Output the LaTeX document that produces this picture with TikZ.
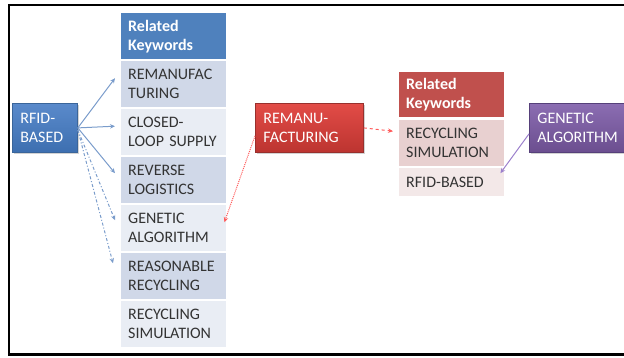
\documentclass[tikz,border=0pt]{standalone}
\usepackage{fontspec}
\setmainfont{Carlito}
\usetikzlibrary{arrows.meta,shadows}
\definecolor{bhead}{HTML}{4F81BD}
\definecolor{bdark}{HTML}{D0D8E8}
\definecolor{blight}{HTML}{E9EDF4}
\definecolor{rhead}{HTML}{C0504D}
\definecolor{rdark}{HTML}{E8D0D0}
\definecolor{rlight}{HTML}{F3E8E8}
\definecolor{txt}{HTML}{333333}
\definecolor{barrow}{HTML}{7A9CCB}
\definecolor{rarrow}{HTML}{FF5A5A}
\definecolor{parrow}{HTML}{9C80CC}
\definecolor{btop}{HTML}{5A8ACB}
\definecolor{bbot}{HTML}{3D6FB0}
\definecolor{bbrd}{HTML}{3A659A}
\definecolor{rtop}{HTML}{E24C47}
\definecolor{rbot}{HTML}{BC3430}
\definecolor{rbrd}{HTML}{98302D}
\definecolor{ptop}{HTML}{8B6DB2}
\definecolor{pbot}{HTML}{6B4E8F}
\definecolor{pbrd}{HTML}{56407A}
\begin{document}
\begin{tikzpicture}[x=1pt,y=1pt,
  kw/.style={anchor=north west, minimum height=46pt, text width=91pt, inner xsep=7pt, inner ysep=0pt, align=left, font=\fontsize{16}{19}\selectfont, text=txt},
  head/.style={kw, text=white, font=\fontsize{16}{19}\selectfont\bfseries},
  srcbox/.style={anchor=north west, minimum height=49pt, inner xsep=8pt, inner ysep=0pt, align=left, font=\fontsize{16}{19}\selectfont, text=white, line width=0.8pt, drop shadow={shadow xshift=1.5pt, shadow yshift=-1.5pt, opacity=0.35}},
  tip/.style={-{Stealth[length=5pt,width=4.5pt]}, line width=1pt}
]
\useasboundingbox (0,0) rectangle (624,-358);
\clip (0,0) rectangle (624,-358);
\draw[line width=2.5pt] (640,-5) -- (9,-5) -- (9,-354.5) -- (640,-354.5);

% blue table
\node[head, fill=bhead] (bh) at (121,-13) {Related\\Keywords};
\node[kw, fill=bdark] (b1) at (121,-61) {REMANUFAC\\TURING};
\node[kw, fill=blight] (b2) at (121,-109) {CLOSED-\\LOOP SUPPLY};
\node[kw, fill=bdark] (b3) at (121,-157) {REVERSE\\LOGISTICS};
\node[kw, fill=blight] (b4) at (121,-205) {GENETIC\\ALGORITHM};
\node[kw, fill=bdark] (b5) at (121,-253) {REASONABLE\\RECYCLING};
\node[kw, fill=blight] (b6) at (121,-301) {RECYCLING\\SIMULATION};

% red table
\node[head, fill=rhead, minimum height=45pt] (rh) at (399,-72) {Related\\Keywords};
\node[kw, fill=rdark] (r1) at (399,-120) {RECYCLING\\SIMULATION};
\node[kw, fill=rlight, minimum height=28pt] (r2) at (399,-168) {RFID-BASED};

% source boxes
\node[srcbox, text width=49pt, top color=btop, bottom color=bbot, draw=bbrd] (rfid) at (12,-103) {RFID-\\BASED};
\node[srcbox, text width=92pt, top color=rtop, bottom color=rbot, draw=rbrd] (rem) at (255,-103) {REMANU-\\FACTURING};
\node[srcbox, text width=90pt, top color=ptop, bottom color=pbot, draw=pbrd] (gen) at (529,-103) {GENETIC\\ALGORITHM};

% blue connectors
\draw[tip, barrow] (rfid.east) -- ([xshift=-6pt,yshift=6pt]b1.west);
\draw[tip, barrow] (rfid.east) -- ([xshift=-6pt,yshift=6pt]b2.west);
\draw[tip, barrow] (rfid.east) -- ([xshift=-6pt,yshift=7pt]b3.west);
\draw[tip, barrow, dash dot] ([yshift=-2pt]rfid.east) -- ([xshift=-6pt,yshift=8pt]b4.west);
\draw[tip, barrow, dash dot] ([yshift=-2pt]rfid.east) -- ([xshift=-8pt,yshift=13pt]b5.west);

% red connectors
\draw[tip, rarrow, dashed] (rem.east) -- ([xshift=-6pt,yshift=12pt]r1.west);
\draw[tip, rarrow, densely dotted] ([yshift=-8pt]rem.west) -- ([xshift=-2pt,yshift=6pt]b4.east);

% purple connector
\draw[tip, parrow] ([yshift=-6pt]gen.west) -- ([xshift=-4pt,yshift=9pt]r2.east);
\end{tikzpicture}
\end{document}
